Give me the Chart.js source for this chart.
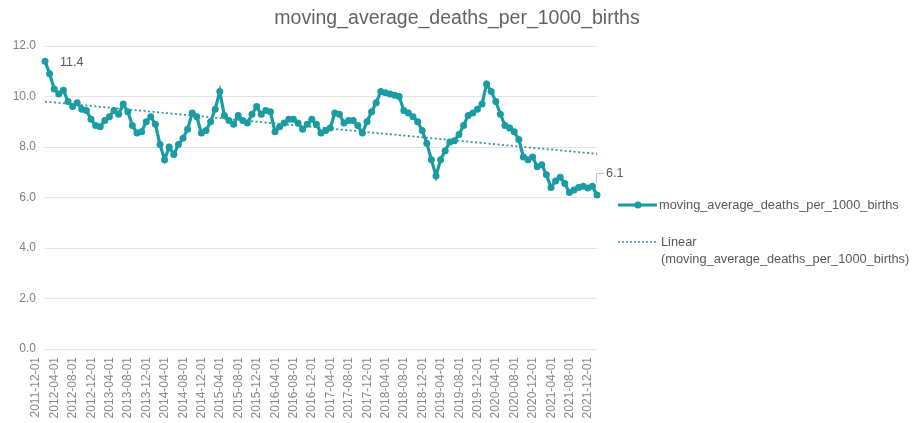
<!DOCTYPE html>
<html>
<head>
<meta charset="utf-8">
<script src="https://cdn.jsdelivr.net/npm/chart.js@4.4.1/dist/chart.umd.min.js"></script>
<style>
  body { margin: 0; background: #fff; }
  #wrap { width: 914px; height: 423px; position: relative; }
</style>
</head>
<body>
<div id="wrap"><canvas id="chart"></canvas></div>
<script>
const seriesName = 'moving_average_deaths_per_1000_births';
const trendName = ['Linear', '(moving_average_deaths_per_1000_births)'];

// monthly values, 2011-12 .. 2021-12
const values = [
  11.4, 10.9, 10.3, 10.1, 10.25, 9.8, 9.6, 9.75, 9.5, 9.45,
  9.1, 8.85, 8.8, 9.05, 9.2, 9.45, 9.3, 9.7, 9.4, 8.85,
  8.55, 8.6, 9.0, 9.2, 8.9, 8.1, 7.5, 8.0, 7.7, 8.1,
  8.35, 8.7, 9.35, 9.2, 8.55, 8.65, 9.0, 9.5, 10.2, 9.25,
  9.05, 8.9, 9.25, 9.05, 8.95, 9.3, 9.6, 9.3, 9.45, 9.4,
  8.6, 8.8, 8.95, 9.1, 9.1, 8.95, 8.7, 8.9, 9.1, 8.9,
  8.55, 8.65, 8.75, 9.35, 9.3, 8.95, 9.05, 9.05, 8.85, 8.55,
  9.0, 9.4, 9.75, 10.2, 10.15, 10.1, 10.05, 10.0, 9.45, 9.35,
  9.2, 9.0, 8.65, 8.15, 7.5, 6.85, 7.5, 7.85, 8.2, 8.25,
  8.5, 8.85, 9.25, 9.35, 9.5, 9.7, 10.5, 10.2, 9.8, 9.3,
  8.85, 8.75, 8.6, 8.3, 7.6, 7.5, 7.6, 7.22, 7.3, 6.9,
  6.4, 6.65, 6.8, 6.55, 6.2, 6.3, 6.4, 6.45, 6.38, 6.45, 6.1
];

const yTicks = [0, 2, 4, 6, 8, 10, 12];

const months = [];
for (let i = 0; i < values.length; i++) {
  const d = new Date(2011, 11 + i, 1);
  months.push(d.getFullYear() + '-' + String(d.getMonth() + 1).padStart(2, '0') + '-01');
}

// linear trendline (least squares, like the spreadsheet does)
const n = values.length;
let sx = 0, sy = 0, sxy = 0, sxx = 0;
values.forEach((v, i) => { sx += i; sy += v; sxy += i * v; sxx += i * i; });
const slope = (n * sxy - sx * sy) / (n * sxx - sx * sx);
const icpt = (sy - slope * sx) / n;
const trend = values.map((v, i) => icpt + slope * i);

const teal = '#1a9ca3';
const trendColor = '#2f9a93';
const textGray = '#595959';
const font = '"Liberation Sans", Arial, sans-serif';

const extras = {
  id: 'extras',
  afterDraw(chart) {
    const ctx = chart.ctx;
    const pts = chart.getDatasetMeta(0).data;
    const first = pts[0], last = pts[pts.length - 1];
    ctx.save();

    // title, centred on the whole canvas
    ctx.font = '19.5px ' + font;
    ctx.fillStyle = '#636363';
    ctx.textAlign = 'center';
    ctx.textBaseline = 'middle';
    ctx.fillText(seriesName, chart.width / 2, 19);

    ctx.font = '12.5px ' + font;
    ctx.fillStyle = textGray;
    ctx.textAlign = 'left';
    ctx.fillText(values[0].toFixed(1), first.x + 15, first.y + 1);

    ctx.strokeStyle = '#bfbfbf';
    ctx.lineWidth = 1;
    ctx.beginPath();
    ctx.moveTo(last.x - 0.5, last.y - 12);
    ctx.lineTo(last.x - 0.5, last.y - 21.5);
    ctx.lineTo(last.x + 7, last.y - 21.5);
    ctx.stroke();
    ctx.fillText(values[n - 1].toFixed(1), last.x + 9, last.y - 21);

    // legend
    ctx.font = '12.8px ' + font;
    ctx.strokeStyle = teal;
    ctx.lineWidth = 3.2;
    ctx.beginPath();
    ctx.moveTo(618, 205);
    ctx.lineTo(657, 205);
    ctx.stroke();
    ctx.fillStyle = teal;
    ctx.beginPath();
    ctx.arc(638, 205, 3.5, 0, Math.PI * 2);
    ctx.fill();
    ctx.fillStyle = textGray;
    ctx.fillText(seriesName, 659, 205);

    ctx.strokeStyle = trendColor;
    ctx.lineWidth = 1.5;
    ctx.setLineDash([2, 2]);
    ctx.beginPath();
    ctx.moveTo(618, 242);
    ctx.lineTo(657, 242);
    ctx.stroke();
    ctx.setLineDash([]);
    ctx.fillText(trendName[0], 661, 242);
    ctx.fillText(trendName[1], 661, 259);
    ctx.restore();
  }
};

new Chart(document.getElementById('chart'), {
  type: 'line',
  data: {
    labels: months,
    datasets: [{
      label: seriesName,
      data: values,
      borderColor: teal,
      backgroundColor: teal,
      borderWidth: 3.2,
      pointRadius: 3.5,
      pointBorderWidth: 0,
      pointBackgroundColor: teal,
      pointBorderColor: teal,
      tension: 0,
      order: 1
    }, {
      label: trendName.join(' '),
      data: trend,
      borderColor: trendColor,
      borderWidth: 1.8,
      borderDash: [2, 2.5],
      pointRadius: 0,
      tension: 0,
      order: 0
    }]
  },
  options: {
    responsive: true,
    maintainAspectRatio: false,
    animation: false,
    layout: { padding: { left: 0, right: 317, top: 46, bottom: 0 } },
    plugins: {
      legend: { display: false },
      tooltip: { enabled: false },
      title: { display: false }
    },
    scales: {
      x: {
        offset: false,
        grid: { display: false },
        border: { display: false },
        afterFit: s => { s.height = 74; },
        ticks: {
          autoSkip: false,
          minRotation: 90,
          maxRotation: 90,
          labelOffset: -9,
          padding: 0,
          color: '#8a8a8a',
          font: { family: font, size: 12 },
          callback: (v, i) => (i % 4 === 0 ? months[i] : '')
        }
      },
      y: {
        min: 0,
        max: 12,
        afterFit: s => { s.width = 45; },
        afterBuildTicks: s => { s.ticks = yTicks.map(v => ({ value: v })); },
        grid: { color: '#e4e4e4', drawTicks: false },
        border: { display: false },
        ticks: {
          padding: 9,
          color: '#808080',
          font: { family: font, size: 12 },
          callback: v => v.toFixed(1)
        }
      }
    }
  },
  plugins: [extras]
});
</script>
</body>
</html>
